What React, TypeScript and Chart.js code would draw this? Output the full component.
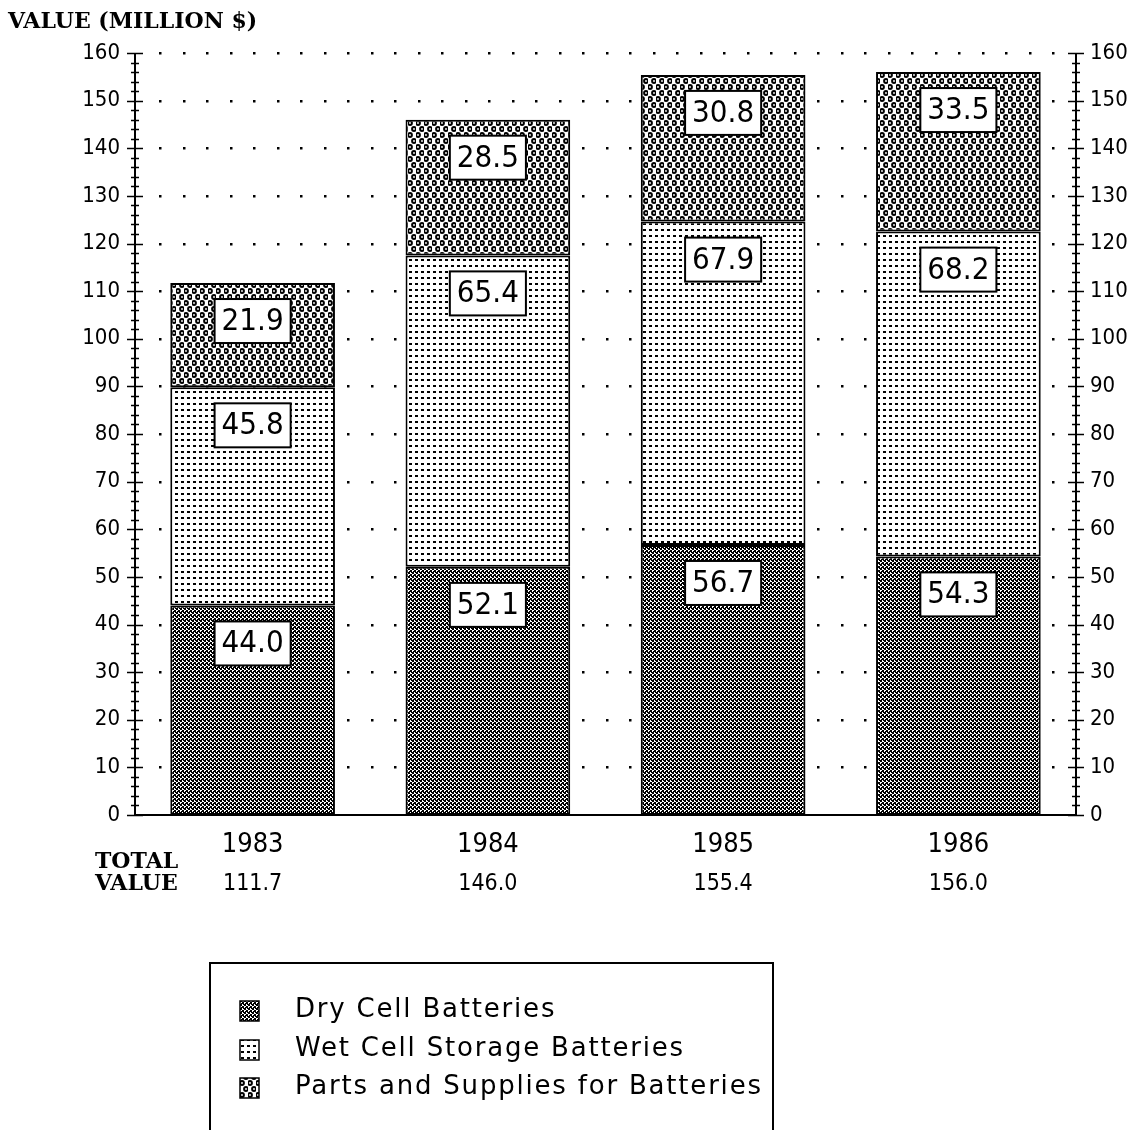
import React, { useEffect, useRef } from 'react';
import { Chart, registerables } from 'chart.js';

Chart.register(...registerables);

const years = ['1983', '1984', '1985', '1986'];
const dryCell = [44.0, 52.1, 56.7, 54.3];
const wetCell = [45.8, 65.4, 67.9, 68.2];
const partsSupplies = [21.9, 28.5, 30.8, 33.5];
const totalValues = ['111.7', '146.0', '155.4', '156.0'];
const seriesLabels = ['Dry Cell Batteries', 'Wet Cell Storage Batteries', 'Parts and Supplies for Batteries'];
const yMin = 0;
const yMax = 160;
const yStep = 10;
const minorStep = 2;
const titleText = 'VALUE (MILLION $)';
const totalLabelLines = ['TOTAL', 'VALUE'];

const NUM_FONT = '"DejaVu Sans Condensed", "Liberation Sans Narrow", "DejaVu Sans", sans-serif';
const SLAB_FONT = '"DejaVu Serif", "Liberation Serif", serif';
const LEGEND_FONT = '"DejaVu Sans", "Noto Sans", sans-serif';

function makeTile(w: number, h: number, draw: (c: CanvasRenderingContext2D) => void): CanvasPattern {
  const cv = document.createElement('canvas');
  cv.width = w;
  cv.height = h;
  const c = cv.getContext('2d')!;
  draw(c);
  return c.createPattern(cv, 'repeat')!;
}

function dryPattern() {
  return makeTile(4, 4, (c) => {
    c.fillStyle = '#fff';
    c.fillRect(0, 0, 4, 4);
    c.fillStyle = '#000';
    c.fillRect(0, 0, 2, 2);
    c.fillRect(2, 2, 2, 2);
    c.fillRect(3, 0, 1, 1);
    c.fillRect(1, 3, 1, 1);
  });
}

function wetPattern() {
  return makeTile(6, 6, (c) => {
    c.fillStyle = '#fff';
    c.fillRect(0, 0, 6, 6);
    c.fillStyle = '#000';
    c.fillRect(1, 1, 3, 2);
  });
}

function partsPattern() {
  return makeTile(8, 12, (c) => {
    c.fillStyle = '#fff';
    c.fillRect(0, 0, 8, 12);
    const centers = [[2, 3], [6, 9], [10, 9], [-2, 3], [6, -3], [2, 15]];
    for (const [cx, cy] of centers) {
      c.fillStyle = '#000';
      c.beginPath();
      c.arc(cx, cy, 2.9, 0, Math.PI * 2);
      c.fill();
      c.fillStyle = '#fff';
      c.beginPath();
      c.arc(cx, cy, 0.9, 0, Math.PI * 2);
      c.fill();
    }
  });
}

const decorPlugin = {
  id: 'decor',
  beforeDatasetsDraw(chart: any) {
    const { ctx, chartArea, scales } = chart;
    const y = scales.y;
    ctx.save();
    ctx.fillStyle = '#000';
    for (let v = yMin + yStep; v <= yMax; v += yStep) {
      const py = y.getPixelForValue(v);
      for (let px = chartArea.left + 25; px < chartArea.right - 6; px += 23.5) {
        ctx.fillRect(Math.round(px) - 1, Math.round(py) - 1, 2.5, 2.5);
      }
    }
    ctx.restore();
  },
  afterDatasetsDraw(chart: any) {
    const { ctx } = chart;
    ctx.save();
    ctx.font = `31px ${NUM_FONT}`;
    ctx.textAlign = 'center';
    ctx.textBaseline = 'middle';
    chart.data.datasets.forEach((ds: any, di: number) => {
      const meta = chart.getDatasetMeta(di);
      meta.data.forEach((el: any, i: number) => {
        const txt = Number(ds.data[i]).toFixed(1);
        const cy = el.y + 38;
        const w = ctx.measureText(txt).width + 14;
        const h = 44;
        ctx.fillStyle = '#fff';
        ctx.fillRect(el.x - w / 2, cy - h / 2, w, h);
        ctx.lineWidth = 2;
        ctx.strokeStyle = '#000';
        ctx.strokeRect(el.x - w / 2, cy - h / 2, w, h);
        ctx.fillStyle = '#000';
        ctx.fillText(txt, el.x, cy + 1);
      });
    });
    ctx.restore();
  },
  afterDraw(chart: any) {
    const { ctx, chartArea, scales } = chart;
    const y = scales.y;
    const x = scales.x;
    const L = chartArea.left;
    const R = chartArea.right;
    const B = chartArea.bottom;
    const T = chartArea.top;
    ctx.save();
    ctx.strokeStyle = '#000';
    ctx.lineWidth = 2;
    ctx.beginPath();
    ctx.moveTo(L, T);
    ctx.lineTo(L, B);
    ctx.moveTo(R, T);
    ctx.lineTo(R, B);
    ctx.moveTo(L, B);
    ctx.lineTo(R, B);
    ctx.stroke();
    ctx.lineWidth = 1.5;
    ctx.beginPath();
    for (let v = yMin; v <= yMax; v += minorStep) {
      const py = Math.round(y.getPixelForValue(v)) + 0.5;
      const len = v % yStep === 0 ? 8 : 4;
      ctx.moveTo(L - len, py);
      ctx.lineTo(L + len, py);
      ctx.moveTo(R - len, py);
      ctx.lineTo(R + len, py);
    }
    ctx.stroke();

    // title
    ctx.fillStyle = '#000';
    ctx.textBaseline = 'middle';
    ctx.textAlign = 'left';
    ctx.font = `bold 22px ${SLAB_FONT}`;
    ctx.fillText(titleText, 8, 22);

    // total value rows
    ctx.font = `bold 22px ${SLAB_FONT}`;
    ctx.fillText(totalLabelLines[0], 95, 862);
    ctx.fillText(totalLabelLines[1], 95, 884);
    ctx.textAlign = 'center';
    ctx.font = `23px ${NUM_FONT}`;
    totalValues.forEach((t, i) => {
      ctx.fillText(t, x.getPixelForValue(i), 884);
    });

    // legend
    const lx = 210, ly = 963, lw = 563;
    ctx.lineWidth = 2;
    ctx.strokeRect(lx, ly, lw, 200);
    const rows = [1011, 1050, 1088];
    ctx.textAlign = 'left';
    ctx.font = `26px ${LEGEND_FONT}`;
    (ctx as any).letterSpacing = '1.8px';
    chart.data.datasets.forEach((ds: any, di: number) => {
      const cy = rows[di];
      ctx.fillStyle = ds.backgroundColor;
      ctx.fillRect(240, cy - 10, 19, 20);
      ctx.lineWidth = 1.5;
      ctx.strokeRect(240, cy - 10, 19, 20);
      ctx.fillStyle = '#000';
      ctx.fillText(ds.label, 295, cy - 1);
    });
    ctx.restore();
  },
};

export default function App() {
  const ref = useRef<HTMLCanvasElement | null>(null);
  useEffect(() => {
    document.body.style.margin = '0';
    const canvas = ref.current!;
    const chart = new Chart(canvas, {
      type: 'bar',
      data: {
        labels: years,
        datasets: [
          { label: seriesLabels[0], data: dryCell, backgroundColor: dryPattern() as any, borderColor: '#000', borderWidth: 2, borderSkipped: false },
          { label: seriesLabels[1], data: wetCell, backgroundColor: wetPattern() as any, borderColor: '#000', borderWidth: 2, borderSkipped: false },
          { label: seriesLabels[2], data: partsSupplies, backgroundColor: partsPattern() as any, borderColor: '#000', borderWidth: 2, borderSkipped: false },
        ],
      },
      options: {
        responsive: false,
        animation: false,
        devicePixelRatio: 1,
        layout: { padding: { top: 53, left: 0, right: 0, bottom: 0 } },
        plugins: { legend: { display: false }, tooltip: { enabled: false }, title: { display: false } },
        datasets: { bar: { categoryPercentage: 1, barPercentage: 0.7 } },
        scales: {
          x: {
            stacked: true,
            offset: true,
            grid: { display: false, drawTicks: false },
            border: { display: false },
            ticks: { color: '#000', font: { family: NUM_FONT, size: 27 }, padding: 14, maxRotation: 0 },
            afterFit: (s: any) => { s.height = 315; },
          },
          y: {
            stacked: true,
            position: 'left',
            min: yMin,
            max: yMax,
            grid: { display: false, drawTicks: false },
            border: { display: false },
            ticks: { stepSize: yStep, color: '#000', font: { family: NUM_FONT, size: 22 }, padding: 15 },
            afterFit: (s: any) => { s.width = 135; },
          },
          y2: {
            position: 'right',
            min: yMin,
            max: yMax,
            grid: { display: false, drawTicks: false },
            border: { display: false },
            ticks: { stepSize: yStep, color: '#000', font: { family: NUM_FONT, size: 22 }, padding: 14 },
            afterFit: (s: any) => { s.width = 56; },
          },
        },
      },
      plugins: [decorPlugin],
    });
    return () => chart.destroy();
  }, []);
  return (
    <div style={{ width: 1132, height: 1130, background: '#fff' }}>
      <canvas ref={ref} width={1132} height={1130} style={{ display: 'block' }} />
    </div>
  );
}
